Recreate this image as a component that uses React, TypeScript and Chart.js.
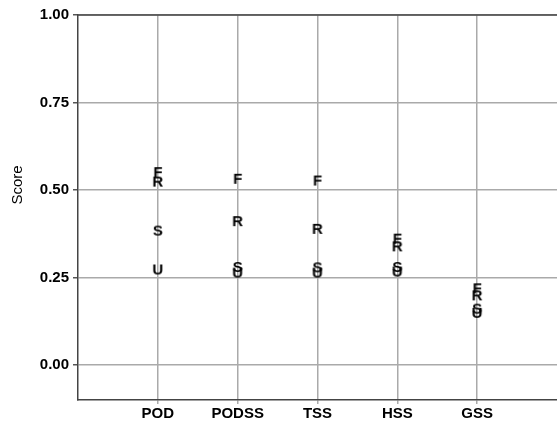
import React, { useEffect, useRef } from "react";
import { Chart, registerables } from "chart.js";

Chart.register(...registerables);

const categories = ["POD", "PODSS", "TSS", "HSS", "GSS"];
const seriesNames = ["F", "R", "S", "U"];
const fValues = [0.551, 0.532, 0.527, 0.361, 0.219];
const rValues = [0.524, 0.411, 0.389, 0.339, 0.199];
const sValues = [0.384, 0.28, 0.279, 0.28, 0.161];
const uValues = [0.273, 0.264, 0.264, 0.267, 0.149];
const yTicks = [0, 0.25, 0.5, 0.75, 1.0];
const yTitle = "Score";

const FONT = "'Liberation Sans', Arial, sans-serif";

function letterCanvas(letter: string) {
  const c = document.createElement("canvas");
  c.width = 18;
  c.height = 18;
  const ctx = c.getContext("2d")!;
  ctx.fillStyle = "#000";
  ctx.font = `bold 15px ${FONT}`;
  ctx.textAlign = "center";
  ctx.textBaseline = "middle";
  ctx.fillText(letter, 9, 10);
  return c;
}

const decor = {
  id: "decor",
  afterDraw(chart: any) {
    const { ctx, chartArea } = chart;
    ctx.save();
    ctx.strokeStyle = "#444";
    ctx.lineWidth = 1.5;
    ctx.beginPath();
    ctx.moveTo(chartArea.left, chartArea.top);
    ctx.lineTo(chartArea.right, chartArea.top);
    ctx.stroke();
    ctx.translate(18, 185);
    ctx.rotate(-Math.PI / 2);
    ctx.fillStyle = "#000";
    ctx.font = `15px ${FONT}`;
    ctx.textAlign = "center";
    ctx.textBaseline = "middle";
    ctx.fillText(yTitle, 0, 0);
    ctx.restore();
  },
};

export default function App() {
  const ref = useRef<HTMLCanvasElement>(null);
  useEffect(() => {
    const allSeries = [fValues, rValues, sValues, uValues];
    const chart = new Chart(ref.current!, {
      type: "scatter",
      data: {
        datasets: seriesNames.map((name, si) => ({
          label: name,
          data: allSeries[si].map((v, i) => ({ x: i + 1, y: v })),
          pointStyle: letterCanvas(name) as any,
          pointRadius: 9,
          showLine: false,
        })),
      },
      options: {
        animation: false,
        responsive: true,
        maintainAspectRatio: false,
        layout: { autoPadding: false, padding: { top: 15, right: 0, left: 0, bottom: 0 } },
        plugins: { legend: { display: false }, tooltip: { enabled: false } },
        scales: {
          x: {
            type: "linear",
            min: 0,
            max: categories.length + 1,
            afterBuildTicks: (s: any) => {
              s.ticks = categories.map((_, i) => ({ value: i + 1 }));
            },
            afterFit: (s: any) => {
              s.height = 25;
              s.paddingLeft = 0;
              s.paddingRight = 0;
            },
            ticks: {
              callback: (v: any) => categories[Number(v) - 1] ?? "",
              font: { family: FONT, size: 15, weight: "bold" },
              color: "#000",
              padding: 1,
              maxRotation: 0,
              autoSkip: false,
            },
            grid: { color: "#aaa", lineWidth: 1.5, tickLength: 4, tickColor: "#aaa" },
            border: { color: "#444", width: 1.5 },
          },
          y: {
            min: -0.1,
            max: 1.0,
            afterBuildTicks: (s: any) => {
              s.ticks = yTicks.map((v) => ({ value: v }));
            },
            afterFit: (s: any) => {
              s.width = 78;
            },
            ticks: {
              callback: (v: any) => Number(v).toFixed(2),
              font: { family: FONT, size: 15, weight: "bold" },
              color: "#000",
              padding: 4,
            },
            grid: { color: "#aaa", lineWidth: 1.5, tickLength: 5, tickColor: "#555" },
            border: { color: "#444", width: 1.5 },
          },
        },
      },
      plugins: [decor],
    });
    return () => chart.destroy();
  }, []);
  return (
    <div style={{ position: "fixed", left: 0, top: 0, width: 557, height: 425, background: "#fff" }}>
      <canvas ref={ref} />
    </div>
  );
}
